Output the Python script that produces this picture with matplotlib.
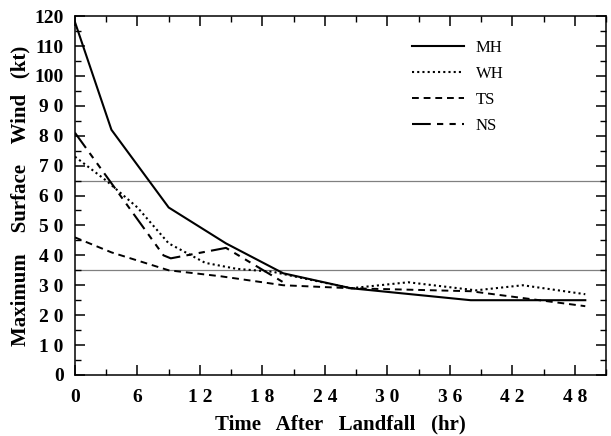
import matplotlib
matplotlib.use("Agg")
import matplotlib.pyplot as plt
from matplotlib.ticker import MultipleLocator

plt.rcParams["font.family"] = ["Liberation Serif", "DejaVu Serif"]

# Time after landfall (hr) and maximum surface wind (kt)
mh_t = [0, 3.5, 9, 14.5, 20, 26.5, 38, 49]
mh_v = [118, 82, 56, 44, 34, 29, 25, 25]

wh_t = [0, 3, 6, 9, 12.5, 15.5, 19, 21, 26.5, 32, 38.5, 43, 49]
wh_v = [73, 65, 56, 44, 37.5, 35.5, 34.5, 33, 29, 31, 28.3, 30, 27]

ts_t = [0, 3.5, 9, 14, 20, 26.5, 38, 49]
ts_v = [46, 41, 35, 33, 30, 29, 28, 23]

ns_t = [0, 8.5, 9.2, 14.5, 20]
ns_v = [81, 40, 39, 42.5, 31]

thresholds = [65, 35]
x_ticks = [0, 6, 12, 18, 24, 30, 36, 42, 48]
x_labels = ["0", "6", "1 2", "1 8", "2 4", "3 0", "3 6", "4 2", "4 8"]
y_ticks = list(range(0, 121, 10))
y_labels = ["0", "1 0", "2 0", "3 0", "4 0", "5 0", "6 0", "7 0", "8 0", "9 0",
            "100", "110", "120"]

fig = plt.figure(figsize=(6.11, 4.36), dpi=100)
ax = fig.add_axes([0.1227, 0.140, 0.8693, 0.823])

for y in thresholds:
    ax.axhline(y, color="#808080", linewidth=0.9, zorder=1)

ax.plot(mh_t, mh_v, color="black", linewidth=1.5, linestyle="-", label="MH")
ax.plot(wh_t, wh_v, color="black", linewidth=1.5, linestyle=(0, (1, 1.5)), label="WH")
ax.plot(ts_t, ts_v, color="black", linewidth=1.4, linestyle=(0, (3.5, 2.5)), label="TS")
ax.plot(ns_t, ns_v, color="black", linewidth=1.5,
        linestyle=(0, (9, 3, 3, 3, 3, 3)), label="NS")

ax.set_xlim(0, 51)
ax.set_ylim(0, 120)
ax.set_xticks(x_ticks)
ax.set_xticklabels(x_labels)
ax.set_yticks(y_ticks)
ax.set_yticklabels(y_labels)
ax.xaxis.set_minor_locator(MultipleLocator(3))
ax.yaxis.set_minor_locator(MultipleLocator(5))
ax.tick_params(which="both", direction="in", top=True, right=True)
ax.tick_params(which="major", length=7, width=1.1, labelsize=14)
ax.tick_params(axis="x", which="major", pad=10)
ax.tick_params(axis="y", which="major", pad=8)
ax.tick_params(which="minor", length=4, width=1.0)
for lab in ax.get_xticklabels() + ax.get_yticklabels():
    lab.set_fontweight("bold")
for sp in ax.spines.values():
    sp.set_linewidth(1.1)

ax.set_xlabel("Time   After   Landfall   (hr)", fontsize=15, fontweight="bold", labelpad=6)
ax.set_ylabel("Maximum    Surface    Wind   (kt)", fontsize=15, fontweight="bold", labelpad=3)

ax.legend(loc="upper right", bbox_to_anchor=(0.835, 0.975), frameon=False,
          fontsize=12, handlelength=3.1, handletextpad=0.7, labelspacing=0.6)

fig.savefig("out.png", dpi=100)
